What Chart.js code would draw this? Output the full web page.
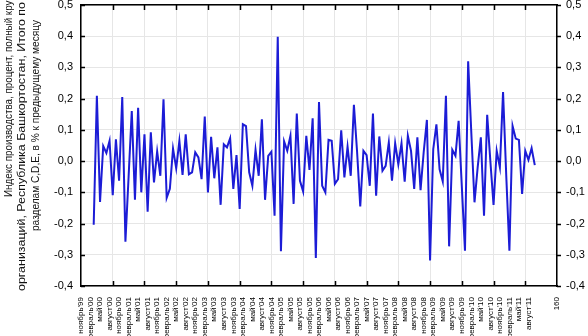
<!DOCTYPE html>
<html>
<head>
<meta charset="utf-8">
<script src="https://cdn.jsdelivr.net/npm/chart.js@4.4.0/dist/chart.umd.min.js"></script>
<style>
    html, body { margin: 0; padding: 0; background: #fff; }
</style>
</head>
<body>
<canvas id="chart" width="588" height="336"></canvas>
<script>
// month labels on the x axis, every 3 months starting at x = 10
var tickLabels = [
    "ноябрь'99",
    "февраль'00", "май'00", "август'00", "ноябрь'00",
    "февраль'01", "май'01", "август'01", "ноябрь'01",
    "февраль'02", "май'02", "август'02", "ноябрь'02",
    "февраль'03", "май'03", "август'03", "ноябрь'03",
    "февраль'04", "май'04", "август'04", "ноябрь'04",
    "февраль'05", "май'05", "август'05", "ноябрь'05",
    "февраль'06", "май'06", "август'06", "ноябрь'06",
    "февраль'07", "май'07", "август'07", "ноябрь'07",
    "февраль'08", "май'08", "август'08", "ноябрь'08",
    "февраль'09", "май'09", "август'09", "ноябрь'09",
    "февраль'10", "май'10", "август'10", "ноябрь'10",
    "февраль'11", "май'11", "август'11"
];
var endLabel = "160";
var xMin = 10;
var xMax = 160;
var labelStep = 3;
var firstX = 14;

// monthly index values
var values = [
    -0.204, 0.209, -0.131, 0.048, 0.026, 0.065, -0.109, 0.07, -0.063, 0.205,
    -0.258, -0.05, 0.16, -0.124, 0.171, -0.1, 0.086, -0.162, 0.092, -0.068,
    0.031, -0.047, 0.198, -0.118, -0.089, 0.04, -0.023, 0.065, -0.044, 0.086,
    -0.042, -0.036, 0.028, 0.012, -0.058, 0.143, -0.1, 0.078, -0.055, 0.044,
    -0.14, 0.054, 0.044, 0.073, -0.089, 0.019, -0.153, 0.118, 0.112, -0.036,
    -0.079, 0.036, -0.047, 0.134, -0.124, 0.017, 0.03, -0.175, 0.398, -0.289,
    0.063, 0.033, 0.081, -0.137, 0.152, -0.063, -0.097, 0.081, -0.028, 0.137,
    -0.31, 0.189, -0.079, -0.1, 0.068, 0.065, -0.073, -0.058, 0.099, -0.052,
    0.046, -0.047, 0.18, 0.03, -0.145, 0.033, 0.019, -0.079, 0.152, -0.111,
    0.079, -0.031, -0.015, 0.06, -0.063, 0.057, -0.01, 0.057, -0.066, 0.081,
    0.033, -0.089, 0.076, -0.093, 0.03, 0.132, -0.318, 0.038, 0.118, -0.026,
    -0.065, 0.209, -0.273, 0.036, 0.017, 0.129, -0.08, -0.287, 0.32, 0.09,
    -0.132, -0.02, 0.076, -0.175, 0.148, 0.0, -0.14, 0.033, -0.02, 0.221,
    -0.045, -0.287, 0.113, 0.072, 0.068, -0.105, 0.033, 0.004, 0.041, -0.013
];

var yTitle = [
    "Индекс производства, процент, полный круг",
    "организаций, Республика Башкортостан, Итого по",
    "разделам C,D,E, в % к предыдущему месяцу"
];

var points = [];
for (var i = 0; i < values.length; i++) {
    points.push({ x: firstX + i, y: values[i] });
}

var labelTicks = [];
for (var k = 0; k < tickLabels.length; k++) {
    labelTicks.push({ value: xMin + k * labelStep });
}
labelTicks.push({ value: xMax });

function fmt(v) {
    return v.toFixed(1).replace('.', ',');
}

// rotated three-line title on the left, each line squeezed to its span
var sideTitle = {
    id: 'sideTitle',
    afterDraw: function (chart) {
        var ctx = chart.ctx;
        var xs = [8.5, 22, 35.5];
        var spans = [[197, -3], [291, 2], [231, 20]];
        ctx.save();
        ctx.fillStyle = '#111';
        ctx.font = '11px "Liberation Sans", Arial, sans-serif';
        ctx.textAlign = 'left';
        ctx.textBaseline = 'middle';
        for (var j = 0; j < yTitle.length; j++) {
            var w = ctx.measureText(yTitle[j]).width;
            ctx.save();
            ctx.translate(xs[j], spans[j][0]);
            ctx.rotate(-Math.PI / 2);
            ctx.scale((spans[j][0] - spans[j][1]) / w, 1);
            ctx.fillText(yTitle[j], 0, 0);
            ctx.restore();
        }
        ctx.restore();
    }
};

// short tick marks on the frame
var frameTicks = {
    id: 'frameTicks',
    afterDraw: function (chart) {
        var ctx = chart.ctx;
        var a = chart.chartArea;
        var xs = chart.scales.x2;
        var ys = chart.scales.y;
        ctx.save();
        ctx.strokeStyle = '#000';
        ctx.lineWidth = 1.5;
        ctx.beginPath();
        xs.ticks.forEach(function (t) {
            if (t.value <= xs.min || t.value >= xs.max) return;
            var px = Math.round(xs.getPixelForValue(t.value)) + 0.5;
            ctx.moveTo(px, a.top); ctx.lineTo(px, a.top + 5);
            ctx.moveTo(px, a.bottom); ctx.lineTo(px, a.bottom - 5);
        });
        ys.ticks.forEach(function (t) {
            var py = Math.round(ys.getPixelForValue(t.value)) + 0.5;
            ctx.moveTo(a.left, py); ctx.lineTo(a.left + 4, py);
            ctx.moveTo(a.right, py); ctx.lineTo(a.right + 4, py);
        });
        ctx.stroke();
        ctx.restore();
    }
};

function fixVertical(width) {
    return function (scale) {
        scale.width = width;
        scale.paddingTop = 0;
        scale.paddingBottom = 0;
    };
}

var ctx = document.getElementById('chart');

var chart = new Chart(ctx, {
    type: 'line',
    data: {
        datasets: [{
            data: points,
            xAxisID: 'x',
            yAxisID: 'y',
            borderColor: '#1c1cd6',
            borderWidth: 2,
            pointRadius: 0,
            tension: 0,
            fill: false
        }]
    },
    options: {
        responsive: false,
        animation: false,
        devicePixelRatio: 1,
        layout: { padding: { top: 5 } },
        plugins: {
            legend: { display: false },
            tooltip: { enabled: false }
        },
        scales: {
            x: {
                type: 'linear',
                position: 'bottom',
                min: xMin,
                max: xMax,
                afterBuildTicks: function (scale) {
                    scale.ticks = labelTicks.map(function (t) { return { value: t.value }; });
                },
                afterFit: function (scale) {
                    scale.height = 50;
                    scale.paddingLeft = 0;
                    scale.paddingRight = 0;
                },
                grid: { display: false },
                border: { display: true, color: '#000', width: 1.5 },
                ticks: {
                    autoSkip: false,
                    maxRotation: 90,
                    minRotation: 90,
                    padding: 3,
                    color: '#000',
                    font: { family: '"Liberation Sans", Arial, sans-serif', size: 8 },
                    callback: function (value, index) {
                        return index < tickLabels.length ? tickLabels[index] : endLabel;
                    }
                }
            },
            x2: {
                type: 'linear',
                position: 'top',
                min: xMin,
                max: xMax,
                afterFit: function (scale) {
                    scale.height = 0;
                    scale.paddingLeft = 0;
                    scale.paddingRight = 0;
                },
                grid: { color: '#e6e6e6', drawTicks: false },
                border: { display: true, color: '#000', width: 1.5 },
                ticks: { display: false, stepSize: 10 }
            },
            y: {
                position: 'left',
                min: -0.4,
                max: 0.5,
                afterFit: fixVertical(81),
                grid: { color: '#e6e6e6', drawTicks: false },
                border: { display: true, color: '#000', width: 1.5 },
                ticks: {
                    stepSize: 0.1,
                    padding: 8,
                    color: '#000',
                    font: { family: '"Liberation Sans", Arial, sans-serif', size: 11 },
                    callback: function (v) { return fmt(v); }
                }
            },
            y2: {
                position: 'right',
                min: -0.4,
                max: 0.5,
                afterFit: fixVertical(31),
                grid: { display: false, drawTicks: false },
                border: { display: true, color: '#000', width: 1.5 },
                ticks: {
                    stepSize: 0.1,
                    padding: 9,
                    color: '#000',
                    font: { family: '"Liberation Sans", Arial, sans-serif', size: 11 },
                    callback: function (v) { return fmt(v); }
                }
            }
        }
    },
    plugins: [sideTitle, frameTicks]
});
</script>
</body>
</html>
